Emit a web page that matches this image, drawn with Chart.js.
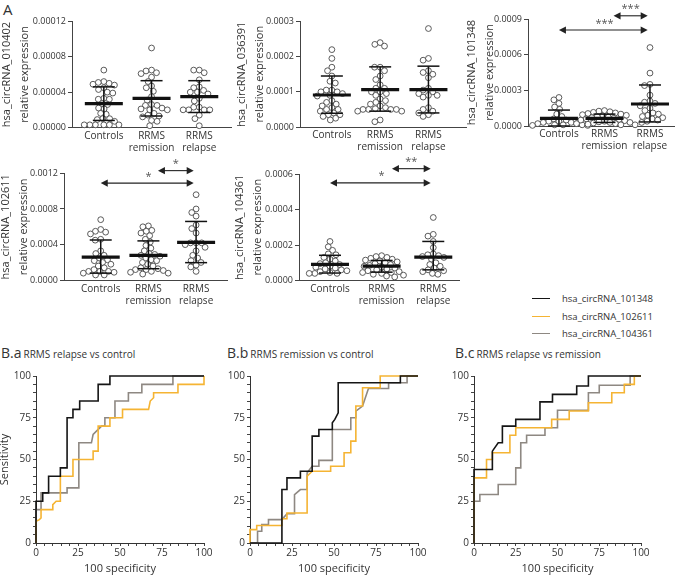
<!DOCTYPE html>
<html><head><meta charset="utf-8">
<script src="https://cdn.jsdelivr.net/npm/chart.js@4.4.0/dist/chart.umd.min.js"></script>
<style>
body{margin:0;background:#fff;width:679px;height:575px;overflow:hidden;position:relative;font-family:"Open Sans",sans-serif;color:#333}
.cv{position:absolute}
.t{position:absolute;white-space:nowrap;color:#333;line-height:1}
</style></head><body>
<div class="t" style="left:3px;top:1.7px;font-size:15px">A</div>
<div class="t" style="left:1px;top:345.6px;font-size:14px;line-height:14px">B.a<span style="font-size:10px;margin-left:2px">RRMS relapse vs control</span></div>
<div class="t" style="left:227px;top:345.6px;font-size:14px;line-height:14px">B.b<span style="font-size:10px;margin-left:2px">RRMS remission vs control</span></div>
<div class="t" style="left:455px;top:345.6px;font-size:14px;line-height:14px">B.c<span style="font-size:10px;margin-left:2px">RRMS relapse vs remission</span></div>
<div id="legend"></div>
<script>
// ---------- categories ----------
const categories = ['Controls', 'RRMS remission', 'RRMS relapse'];

// ---------- hsa_circRNA_010402 ----------
const c010402Controls = [6.5e-5,5.2e-5,5.1e-5,5.0e-5,4.9e-5,4.8e-5,4.5e-5,4.3e-5,4.0e-5,3.9e-5,3.3e-5,3.2e-5,3.2e-5,2.7e-5,2.6e-5,2.2e-5,2.1e-5,1.6e-5,1.5e-5,1.0e-5,1.0e-5,0.9e-5,0.7e-5,0.3e-5,0.3e-5,0.3e-5,0.3e-5,0.3e-5,0.3e-5];
const c010402Remission = [9.0e-5,6.5e-5,6.4e-5,6.2e-5,6.1e-5,5.7e-5,5.2e-5,4.7e-5,4.5e-5,4.1e-5,3.5e-5,3.1e-5,2.6e-5,2.5e-5,2.5e-5,2.2e-5,2.1e-5,2.0e-5,2.0e-5,1.6e-5,1.4e-5,1.3e-5,1.2e-5,0.8e-5,0.7e-5,0.2e-5];
const c010402Relapse = [6.5e-5,6.5e-5,6.2e-5,5.4e-5,4.6e-5,4.5e-5,4.2e-5,4.0e-5,4.0e-5,3.8e-5,3.3e-5,3.0e-5,2.3e-5,2.3e-5,2.0e-5,2.0e-5,2.0e-5,2.0e-5,1.4e-5,1.0e-5,0.2e-5];
const c010402Mean = [2.7e-5, 3.3e-5, 3.5e-5];
const c010402Low = [0.8e-5, 1.3e-5, 1.7e-5];
const c010402High = [4.6e-5, 5.3e-5, 5.3e-5];
const c010402Ticks = [0, 0.00004, 0.00008, 0.00012];

// ---------- hsa_circRNA_036391 ----------
const c036391Controls = [2.2e-4,1.95e-4,1.7e-4,1.6e-4,1.45e-4,1.3e-4,1.25e-4,1.05e-4,1.05e-4,1.0e-4,1.0e-4,0.95e-4,0.9e-4,0.88e-4,0.75e-4,0.7e-4,0.65e-4,0.6e-4,0.55e-4,0.5e-4,0.5e-4,0.45e-4,0.4e-4,0.35e-4,0.35e-4,0.3e-4,0.25e-4,0.2e-4];
const c036391Remission = [2.4e-4,2.35e-4,2.3e-4,1.7e-4,1.7e-4,1.6e-4,1.45e-4,1.35e-4,1.2e-4,1.1e-4,1.1e-4,1.0e-4,1.0e-4,0.95e-4,0.9e-4,0.8e-4,0.75e-4,0.7e-4,0.65e-4,0.6e-4,0.55e-4,0.52e-4,0.5e-4,0.5e-4,0.5e-4,0.5e-4,0.45e-4,0.45e-4,0.2e-4,0.15e-4];
const c036391Relapse = [2.8e-4,1.95e-4,1.9e-4,1.6e-4,1.55e-4,1.5e-4,1.4e-4,1.1e-4,1.05e-4,1.0e-4,0.95e-4,0.9e-4,0.9e-4,0.85e-4,0.55e-4,0.5e-4,0.45e-4,0.4e-4,0.35e-4,0.3e-4];
const c036391Mean = [0.91e-4, 1.06e-4, 1.06e-4];
const c036391Low = [0.39e-4, 0.45e-4, 0.4e-4];
const c036391High = [1.45e-4, 1.71e-4, 1.73e-4];
const c036391Ticks = [0, 0.0001, 0.0002, 0.0003];

// ---------- hsa_circRNA_101348 ----------
const c101348Controls = [2.4e-4,2.2e-4,1.9e-4,1.6e-4,1.4e-4,1.0e-4,0.8e-4,0.6e-4,0.5e-4,0.4e-4,0.4e-4,0.3e-4,0.3e-4,0.2e-4,0.2e-4,0.1e-4,0.1e-4,0.1e-4,0.05e-4,0.05e-4];
const c101348Remission = [1.3e-4,1.25e-4,1.2e-4,1.15e-4,1.1e-4,1.05e-4,1.0e-4,0.95e-4,0.9e-4,0.85e-4,0.8e-4,0.75e-4,0.7e-4,0.65e-4,0.6e-4,0.55e-4,0.5e-4,0.45e-4,0.4e-4,0.35e-4,0.3e-4,0.3e-4,0.25e-4,0.2e-4,0.2e-4,0.15e-4,0.1e-4,0.1e-4];
const c101348Relapse = [6.6e-4,4.45e-4,3.5e-4,3.4e-4,2.6e-4,2.1e-4,2.0e-4,1.9e-4,1.7e-4,1.5e-4,1.3e-4,1.1e-4,1.0e-4,0.9e-4,0.8e-4,0.7e-4,0.6e-4,0.5e-4,0.4e-4,0.3e-4];
const c101348Mean = [0.64e-4, 0.64e-4, 1.85e-4];
const c101348Low = [0, 0.3e-4, 0.34e-4];
const c101348High = [1.34e-4, 1.0e-4, 3.45e-4];
const c101348Ticks = [0, 0.0003, 0.0006, 0.0009];
const c101348Sig = ['***', '***'];
const c101348SigY = [0.000807, 0.000927];

// ---------- hsa_circRNA_102611 ----------
const c102611Controls = [6.8e-4,5.7e-4,5.5e-4,5.4e-4,5.2e-4,4.6e-4,4.5e-4,3.3e-4,3.0e-4,2.8e-4,2.5e-4,2.3e-4,2.2e-4,2.0e-4,1.8e-4,1.6e-4,1.4e-4,1.2e-4,1.0e-4,1.0e-4,1.0e-4,0.9e-4,0.8e-4,0.6e-4,0.6e-4];
const c102611Remission = [6.1e-4,6.0e-4,5.6e-4,5.5e-4,5.3e-4,5.0e-4,4.6e-4,4.3e-4,3.9e-4,3.6e-4,3.3e-4,3.0e-4,2.9e-4,2.8e-4,2.7e-4,2.5e-4,2.3e-4,2.2e-4,2.0e-4,1.8e-4,1.6e-4,1.4e-4,1.3e-4,1.2e-4,1.2e-4,1.1e-4,1.0e-4,0.9e-4,0.8e-4,0.7e-4];
const c102611Relapse = [9.6e-4,8.0e-4,7.6e-4,7.2e-4,6.2e-4,5.8e-4,5.3e-4,4.2e-4,4.2e-4,4.2e-4,4.0e-4,3.7e-4,3.3e-4,2.8e-4,2.5e-4,2.2e-4,2.0e-4,1.7e-4,1.5e-4,1.0e-4];
const c102611Mean = [2.6e-4, 2.8e-4, 4.25e-4];
const c102611Low = [0.8e-4, 1.3e-4, 1.98e-4];
const c102611High = [4.52e-4, 4.42e-4, 6.6e-4];
const c102611Ticks = [0, 0.0004, 0.0008, 0.0012];
const c102611Sig = ['*', '*'];
const c102611SigY = [0.00109, 0.00123];

// ---------- hsa_circRNA_104361 ----------
const c104361Controls = [2.2e-4,1.9e-4,1.7e-4,1.5e-4,1.45e-4,1.3e-4,1.2e-4,1.1e-4,1.0e-4,0.95e-4,0.9e-4,0.8e-4,0.75e-4,0.7e-4,0.65e-4,0.6e-4,0.55e-4,0.5e-4,0.45e-4,0.4e-4,0.4e-4,0.4e-4];
const c104361Remission = [1.4e-4,1.35e-4,1.3e-4,1.25e-4,1.2e-4,1.15e-4,1.1e-4,1.05e-4,1.0e-4,0.95e-4,0.9e-4,0.85e-4,0.8e-4,0.75e-4,0.7e-4,0.65e-4,0.6e-4,0.55e-4,0.5e-4,0.45e-4,0.45e-4,0.4e-4,0.35e-4,0.3e-4,0.25e-4,0.2e-4];
const c104361Relapse = [3.55e-4,2.6e-4,2.5e-4,2.2e-4,1.85e-4,1.5e-4,1.45e-4,1.4e-4,1.35e-4,1.3e-4,1.2e-4,1.0e-4,0.9e-4,0.8e-4,0.7e-4,0.6e-4,0.55e-4,0.5e-4,0.4e-4,0.35e-4];
const c104361Mean = [0.91e-4, 0.81e-4, 1.32e-4];
const c104361Low = [0.42e-4, 0.47e-4, 0.6e-4];
const c104361High = [1.42e-4, 1.13e-4, 2.2e-4];
const c104361Ticks = [0, 0.0002, 0.0004, 0.0006];
const c104361Sig = ['*', '**'];
const c104361SigY = [0.00055, 0.00063];

// ---------- ROC curves (100 - specificity, sensitivity) ----------
const rocSeries = ['hsa_circRNA_101348', 'hsa_circRNA_102611', 'hsa_circRNA_104361'];
const rocColors = ['#151515', '#F5B433', '#8E8882'];
const rocA101348 = [[0,0],[0,25],[4,25],[4,30],[7.5,30],[7.5,40],[14.5,40],[14.5,45],[18.5,45],[18.5,75],[22,75],[22,80],[26,80],[26,85],[37,85],[37,95],[44,95],[44,100],[100,100]];
const rocA102611 = [[0,0],[0,13],[2,14],[3,15],[3,20],[10,20],[10,23],[12,25],[14.5,25],[14.5,40],[22,40],[22,50],[34,50],[34,55],[37,55],[37,70],[44,70],[44,75],[51.5,75],[51.5,80],[67,80],[68,85],[70,87],[70,90],[84.5,90],[84.5,95],[100,95],[100,100]];
const rocA104361 = [[0,0],[0,20],[3,20],[3,30],[18.5,30],[18.5,33],[25.5,33],[25.5,60],[33,60],[34,65],[37.5,68.5],[39,70],[41,70],[41,75],[47,75],[47,85],[55,85],[55,90],[63,90],[63,95],[81.5,95],[81.5,100],[100,100]];
const rocB101348 = [[0,0],[19,0],[19,32],[22,32],[22,39],[30,39],[30,43],[37,43],[37,64],[41,64],[41,68],[49,68],[49,72],[50.5,74],[52.5,78],[52.5,96],[89.5,96],[89.5,100],[100,100]];
const rocB102611 = [[0,0],[0,8],[4,8],[4,10.5],[19,10.5],[19,14.5],[22,14.5],[22,18],[34,18],[34,40],[37,43],[48,43],[48,46],[56,46],[56,54],[60,54],[60,61],[63,61],[63,82],[67,82],[67,93],[77.5,93],[77.5,100],[100,100]];
const rocB104361 = [[0,0],[4.5,0],[4.5,7],[7,7],[7,11],[11,11],[11,14],[19,14],[22,17.5],[26.5,17.5],[26.5,29],[30,32],[34,32],[34,42],[37,46],[41,46],[41,49.5],[49,49.5],[49,68],[60,68],[60,75],[63,75],[63,79],[67,82],[70.5,92.5],[82.5,92.5],[82.5,96],[93.5,96],[93.5,100],[100,100]];
const rocC101348 = [[0,0],[0,44],[11,44],[11,55],[14.5,60],[17,60],[17,70],[25,70],[25,74],[39.5,74],[39.5,84.5],[47,84.5],[47,89],[61.5,89],[61.5,94],[68.5,94],[68.5,100],[100,100]];
const rocC102611 = [[0,0],[0,39],[7.5,39],[7.5,50],[11,50],[11,54],[21.5,54],[21.5,64.5],[25,64.5],[25,69],[46.5,69],[46.5,74],[57,74],[57,79],[68.5,79],[68.5,84],[82.5,84],[82.5,90],[90,90],[90,95],[96,95],[96,100],[100,100]];
const rocC104361 = [[0,0],[0,25],[3.5,25],[3.5,29],[14.5,29],[14.5,35],[25,35],[25,45],[28,45],[28,60],[31.5,60],[31.5,64.5],[42.5,64.5],[42.5,69],[50,69],[50,79.5],[68.5,79.5],[68.5,90],[75,90],[75,94.5],[93.5,94.5],[93.5,100],[100,100]];
const rocTickLabels = [0, 25, 50, 75, 100];

// ---------- setup ----------
Chart.defaults.font.family = "'Open Sans', sans-serif";
Chart.defaults.color = '#333';

function makeCanvas(left, top, w, h) {
  const c = document.createElement('canvas');
  c.className = 'cv';
  c.width = w; c.height = h;
  c.style.left = left + 'px'; c.style.top = top + 'px';
  c.style.width = w + 'px'; c.style.height = h + 'px';
  document.body.appendChild(c);
  return c;
}

function line(ctx, x1, y1, x2, y2) { ctx.beginPath(); ctx.moveTo(x1, y1); ctx.lineTo(x2, y2); ctx.stroke(); }
function head(ctx, x, y, dir) {
  ctx.beginPath(); ctx.moveTo(x, y); ctx.lineTo(x - dir * 7, y - 3.6); ctx.lineTo(x - dir * 7, y + 3.6); ctx.closePath(); ctx.fill();
}

const dotPlugin = {
  id: 'dotDeco',
  afterDatasetsUpdate(chart, args, opts) {
    const meta = chart.getDatasetMeta(0);
    const xs = chart.scales.x;
    const raw = chart.data.datasets[0].data;
    const groups = {};
    meta.data.forEach((el, i) => { const g = raw[i].x; (groups[g] = groups[g] || []).push(el); });
    const d = opts.spacing;
    for (const g in groups) {
      const cx = xs.getPixelForValue(+g);
      const els = groups[g].slice().sort((a, b) => a.y - b.y);
      const placed = [];
      for (const el of els) {
        const cands = [0];
        for (const p of placed) {
          const dy = el.y - p.y;
          if (Math.abs(dy) < d) { const w = Math.sqrt(d * d - dy * dy); cands.push(p.dx + w, p.dx - w); }
        }
        cands.sort((a, b) => Math.abs(a) - Math.abs(b) || a - b);
        let best = 0;
        for (const c of cands) {
          if (placed.every(p => (c - p.dx) ** 2 + (el.y - p.y) ** 2 >= d * d - 0.01)) { best = c; break; }
        }
        placed.push({ dx: best, y: el.y });
        el.x = cx + best;
      }
    }
  },
  afterDatasetsDraw(chart, args, opts) {
    const ctx = chart.ctx, xs = chart.scales.x, ys = chart.scales.y;
    ctx.save();
    ctx.strokeStyle = '#111'; ctx.lineCap = 'butt';
    opts.mean.forEach((m, i) => {
      const cx = xs.getPixelForValue(i);
      const yl = ys.getPixelForValue(opts.low[i]), yh = ys.getPixelForValue(opts.high[i]), ym = ys.getPixelForValue(m);
      ctx.lineWidth = 1.5;
      line(ctx, cx, yl, cx, yh);
      line(ctx, cx - 11, yl, cx + 11, yl);
      line(ctx, cx - 11, yh, cx + 11, yh);
      ctx.lineWidth = 3.2;
      line(ctx, cx - 19, ym, cx + 19, ym);
    });
    if (opts.sig) {
      const spans = [[0, 1.95, 1.0], [1.2, 1.95, 1.575]];
      opts.sig.forEach((lab, k) => {
        const [a, b, lx] = spans[k];
        const x1 = xs.getPixelForValue(a), x2 = xs.getPixelForValue(b), y = ys.getPixelForValue(opts.sigY[k]);
        ctx.strokeStyle = '#222'; ctx.fillStyle = '#222'; ctx.lineWidth = 1.1;
        line(ctx, x1 + 5, y, x2 - 5, y);
        head(ctx, x1, y, -1); head(ctx, x2, y, 1);
        ctx.fillStyle = '#555';
        ctx.font = "11px 'Open Sans', sans-serif";
        ctx.textAlign = 'center'; ctx.textBaseline = 'alphabetic';
        ctx.fillText(lab, xs.getPixelForValue(lx), y - 9.5 + 6);
      });
    }
    ctx.restore();
  }
};

function dotChart(cfg) {
  const cv = makeCanvas(cfg.left, cfg.top, cfg.w, cfg.h);
  const pts = [];
  cfg.groups.forEach((arr, gi) => arr.forEach(v => pts.push({ x: gi, y: v })));
  const ticks = cfg.ticks;
  new Chart(cv, {
    type: 'scatter',
    data: { datasets: [{ data: pts, pointRadius: 2.9, pointBorderWidth: 0.9, pointBorderColor: '#4a4a4a', pointBackgroundColor: '#fff', clip: false }] },
    options: {
      responsive: false, animation: false, events: [],
      layout: { padding: { top: cfg.padTop, right: cfg.padRight, bottom: 0, left: 0 } },
      plugins: { legend: { display: false }, tooltip: { enabled: false },
        dotDeco: { spacing: 5.6, mean: cfg.mean, low: cfg.low, high: cfg.high, sig: cfg.sig, sigY: cfg.sigY } },
      scales: {
        x: { type: 'linear', min: cfg.xMin, max: cfg.xMax,
          afterBuildTicks: s => { s.ticks = [0, 1, 2].map(v => ({ value: v })); },
          afterFit: s => { s.height = cfg.xH; s.paddingLeft = 0; s.paddingRight = 0; },
          grid: { display: false, drawTicks: false }, border: { display: true, color: '#444', width: 1 },
          ticks: { autoSkip: false, maxRotation: 0, padding: 2.5, font: { size: 10, lineHeight: 1.2 }, color: '#333',
            callback: v => categories[v].split(' ') } },
        y: { type: 'linear', min: 0, max: ticks[ticks.length - 1],
          afterBuildTicks: s => { s.ticks = ticks.map(v => ({ value: v })); },
          afterFit: s => { s.width = cfg.yW; s.paddingTop = 0; s.paddingBottom = 0; },
          grid: { display: true, drawOnChartArea: false, drawTicks: true, tickLength: 4, color: '#444' },
          border: { display: true, color: '#444', width: 1 },
          ticks: { padding: 2, font: { size: 9 }, color: '#333', callback: v => v.toFixed(cfg.dec) },
          title: { display: true, text: [cfg.title, 'relative expression'], font: { size: 11, lineHeight: 1.6 }, color: '#333', padding: 0 } }
      }
    },
    plugins: [dotPlugin]
  });
}

dotChart({ left: -2, top: 0, w: 238, h: 160, padTop: 21.5, padRight: 4, yW: 74, xH: 32.5, xMin: -0.667, xMax: 2.667,
  groups: [c010402Controls, c010402Remission, c010402Relapse], mean: c010402Mean, low: c010402Low, high: c010402High,
  ticks: c010402Ticks, dec: 5, title: 'hsa_circRNA_010402' });
dotChart({ left: 233, top: 0, w: 238, h: 160, padTop: 21.5, padRight: 4, yW: 67, xH: 33, xMin: -0.66, xMax: 2.78,
  groups: [c036391Controls, c036391Remission, c036391Relapse], mean: c036391Mean, low: c036391Low, high: c036391High,
  ticks: c036391Ticks, dec: 4, title: 'hsa_circRNA_036391' });
dotChart({ left: 463, top: 0, w: 216, h: 160, padTop: 19, padRight: 0, yW: 65, xH: 34, xMin: -0.68, xMax: 2.53,
  groups: [c101348Controls, c101348Remission, c101348Relapse], mean: c101348Mean, low: c101348Low, high: c101348High,
  ticks: c101348Ticks, dec: 4, title: 'hsa_circRNA_101348', sig: c101348Sig, sigY: c101348SigY });
dotChart({ left: -3, top: 150, w: 235, h: 163, padTop: 23.3, padRight: 4, yW: 67, xH: 32.7, xMin: -0.77, xMax: 2.65,
  groups: [c102611Controls, c102611Remission, c102611Relapse], mean: c102611Mean, low: c102611Low, high: c102611High,
  ticks: c102611Ticks, dec: 4, title: 'hsa_circRNA_102611', sig: c102611Sig, sigY: c102611SigY });
dotChart({ left: 231, top: 150, w: 233, h: 163, padTop: 24, padRight: 4, yW: 68, xH: 32.5, xMin: -0.6, xMax: 2.5,
  groups: [c104361Controls, c104361Remission, c104361Relapse], mean: c104361Mean, low: c104361Low, high: c104361High,
  ticks: c104361Ticks, dec: 4, title: 'hsa_circRNA_104361', sig: c104361Sig, sigY: c104361SigY });

// ---------- ROC charts ----------
const minorTicks = [];
for (let v = 0; v <= 100; v += 5) minorTicks.push(v);

function rocChart(cfg) {
  const cv = makeCanvas(cfg.left, cfg.top, cfg.w, cfg.h);
  const fmt = v => rocTickLabels.includes(v) ? String(v) : '';
  new Chart(cv, {
    type: 'scatter',
    data: { datasets: cfg.series.map((s, i) => ({ label: rocSeries[i], data: s.map(p => ({ x: p[0], y: p[1] })), showLine: true,
      borderColor: rocColors[i], backgroundColor: rocColors[i], borderWidth: 1.6, pointRadius: 0, tension: 0, clip: false })) },
    options: {
      responsive: false, animation: false, events: [],
      layout: { padding: { top: cfg.padTop, right: cfg.padRight, bottom: 0, left: 0 } },
      plugins: { legend: { display: false }, tooltip: { enabled: false } },
      scales: {
        x: { type: 'linear', min: 0, max: 100,
          afterBuildTicks: s => { s.ticks = minorTicks.map(v => ({ value: v })); },
          afterFit: s => { s.height = cfg.xH; s.paddingLeft = 0; s.paddingRight = 0; },
          grid: { display: true, drawOnChartArea: false, drawTicks: true, tickLength: 3, color: '#444' },
          border: { display: true, color: '#333', width: 1 },
          ticks: { autoSkip: false, maxRotation: 0, padding: 1, font: { size: 10 }, color: '#333', callback: fmt },
          title: { display: true, text: '100 specificity', font: { size: 11 }, color: '#333', padding: 0 } },
        y: { type: 'linear', min: 0, max: 100,
          afterBuildTicks: s => { s.ticks = minorTicks.map(v => ({ value: v })); },
          afterFit: s => { s.width = cfg.yW; s.paddingTop = 0; s.paddingBottom = 0; },
          grid: { display: true, drawOnChartArea: false, drawTicks: true, tickLength: 3, color: '#444' },
          border: { display: true, color: '#333', width: 1 },
          ticks: { autoSkip: false, padding: 2, font: { size: 10 }, color: '#333', callback: fmt },
          title: { display: !!cfg.yTitle, text: cfg.yTitle || '', font: { size: 11 }, color: '#333', padding: 0 } }
      }
    }
  });
}

rocChart({ left: -2, top: 362, w: 216, h: 213, padTop: 14, padRight: 10, yW: 38, xH: 32, yTitle: 'Sensitivity',
  series: [rocA101348, rocA102611, rocA104361] });
rocChart({ left: 220, top: 362, w: 208, h: 213, padTop: 14, padRight: 10, yW: 30, xH: 32,
  series: [rocB101348, rocB102611, rocB104361] });
rocChart({ left: 444, top: 362, w: 207, h: 213, padTop: 14, padRight: 10, yW: 30, xH: 32,
  series: [rocC101348, rocC102611, rocC104361] });

// ---------- legend ----------
const lg = document.getElementById('legend');
const legendY = [299, 317, 334];
rocSeries.forEach((name, i) => {
  const ln = document.createElement('div');
  ln.style.cssText = `position:absolute;left:532px;top:${legendY[i] - 0.8}px;width:18px;height:0;border-top:1.6px solid ${rocColors[i]}`;
  lg.appendChild(ln);
  const tx = document.createElement('div');
  tx.className = 't';
  tx.style.cssText += `left:562px;top:${legendY[i] - 5}px;font-size:9.5px;line-height:10px`;
  tx.textContent = name;
  lg.appendChild(tx);
});
</script>
</body></html>
